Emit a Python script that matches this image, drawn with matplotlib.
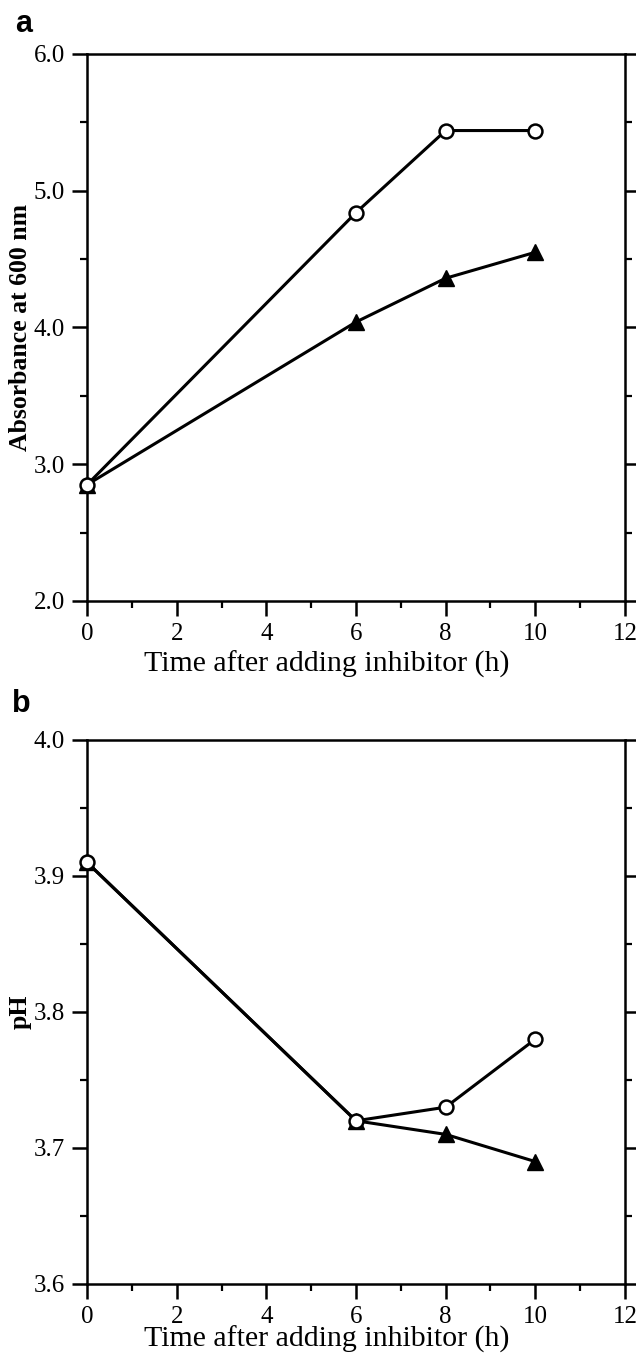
import matplotlib
matplotlib.use("Agg")
import matplotlib.pyplot as plt
from matplotlib.ticker import MultipleLocator

# time points (h)
time_h = [0, 6, 8, 10]

# panel a: absorbance at 600 nm
abs_open = [2.85, 4.84, 5.44, 5.44]
abs_filled = [2.85, 4.04, 4.36, 4.55]

# panel b: pH
ph_open = [3.91, 3.72, 3.73, 3.78]
ph_filled = [3.91, 3.72, 3.71, 3.69]

x_label = "Time after adding inhibitor (h)"

plt.rcParams["font.family"] = ["Liberation Serif", "DejaVu Serif"]
plt.rcParams["axes.linewidth"] = 1.8

fig = plt.figure(figsize=(6.36, 13.56), dpi=100)
ax_a = fig.add_axes([0.1368, 0.5568, 0.8459, 0.4034])
ax_b = fig.add_axes([0.1368, 0.0531, 0.8459, 0.4012])


def style_axis(ax, ylim, ymajor, yminor, ylabel, label_gap):
    ax.set_xlim(0, 12)
    ax.set_ylim(*ylim)
    ax.xaxis.set_major_locator(MultipleLocator(2))
    ax.xaxis.set_minor_locator(MultipleLocator(1))
    ax.yaxis.set_major_locator(MultipleLocator(ymajor))
    ax.yaxis.set_minor_locator(MultipleLocator(yminor))
    ax.yaxis.set_major_formatter("{x:.1f}")
    ax.tick_params(axis="both", which="major", direction="out", length=11,
                   width=1.8, labelsize=18, pad=5)
    ax.tick_params(axis="both", which="minor", direction="out", length=5,
                   width=1.6)
    ax.tick_params(axis="y", which="both", right=True, labelright=False)
    ax.tick_params(axis="x", which="both", top=False)
    ax.set_xlabel(x_label, fontsize=21.5, va="top")
    # keep the label a fixed pixel distance below the axis
    h_px = ax.get_position().height * fig.get_figheight() * fig.dpi
    ax.xaxis.set_label_coords(0.445, -label_gap / h_px)
    ax.set_ylabel(ylabel, fontsize=18.5, fontweight="bold", labelpad=1)


def plot_series(ax, xs, open_vals, filled_vals):
    ax.plot(xs, filled_vals, color="black", lw=2.2, marker="^", ms=11,
            mfc="black", mec="black", zorder=3, clip_on=False)
    ax.plot(xs, open_vals, color="black", lw=2.2, marker="o", ms=10,
            mfc="white", mec="black", mew=1.8, zorder=4, clip_on=False)


plot_series(ax_a, time_h, abs_open, abs_filled)
style_axis(ax_a, (2.0, 6.0), 1.0, 0.5, "Absorbance at 600 nm", 50.0)

plot_series(ax_b, time_h, ph_open, ph_filled)
style_axis(ax_b, (3.6, 4.0), 0.1, 0.05, "pH", 42.0)

fig.text(0.023, 0.9825, "a", family="Liberation Sans", fontweight="bold",
         fontsize=22, ha="left", va="center")
fig.text(0.019, 0.481, "b", family="Liberation Sans", fontweight="bold",
         fontsize=22, ha="left", va="center")

fig.savefig("out.png", dpi=100)
